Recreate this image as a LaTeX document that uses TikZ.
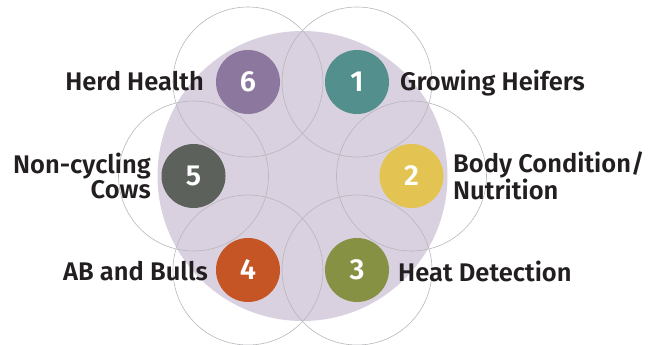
\documentclass[tikz,border=0pt]{standalone}
\usepackage{fontspec}
\setmainfont{Fira Sans}[BoldFont={Fira Sans SemiBold}]
\definecolor{discfill}{HTML}{D9D1DF}
\definecolor{ringgray}{HTML}{B8B6BA}
\definecolor{ink}{HTML}{231F20}
\definecolor{cteal}{HTML}{528F8D}
\definecolor{cyellow}{HTML}{E3C453}
\definecolor{colive}{HTML}{869143}
\definecolor{corange}{HTML}{C55524}
\definecolor{cslate}{HTML}{5C615B}
\definecolor{cmauve}{HTML}{8C789F}
\begin{document}
\begin{tikzpicture}[x=1pt,y=-1pt,
  ring/.style={draw=ringgray, line width=0.6pt},
  badge/.style={circle, minimum size=64pt, inner sep=0pt, text=white,
    font=\fontsize{29}{29}\selectfont\bfseries},
  caption/.style={font=\fontsize{25.5}{22.5}\selectfont\bfseries, text=ink, inner sep=0pt}]
\useasboundingbox (0,0) rectangle (648,345);
% central disc
\fill[discfill] (302.5,176) circle (145);
% positions of the six topics around the hexagon
\coordinate (p1) at (357,82);
\coordinate (p2) at (411.5,176);
\coordinate (p3) at (357,270);
\coordinate (p4) at (248,270);
\coordinate (p5) at (193.5,176);
\coordinate (p6) at (248,82);
% thin overlapping rings
\foreach \i in {1,...,6} \draw[ring] (p\i) circle (75);
% numbered badges
\node[badge, fill=cteal]   (b1) at (p1) {1};
\node[badge, fill=cyellow] (b2) at (p2) {2};
\node[badge, fill=colive]  (b3) at (p3) {3};
\node[badge, fill=corange] (b4) at (p4) {4};
\node[badge, fill=cslate]  (b5) at (p5) {5};
\node[badge, fill=cmauve]  (b6) at (p6) {6};
% captions (multi-line ones are anchored on their last baseline)
\node[caption, anchor=base west] (t1) at (400,91) {Growing Heifers};
\node[caption, anchor=base west, align=left] (t2) at (453,199.5) {Body Condition/\\Nutrition};
\node[caption, anchor=base west] (t3) at (398,281) {Heat Detection};
\node[caption, anchor=base east] (t4) at (208,280) {AB and Bulls};
\node[caption, anchor=base east, align=right] (t5) at (151,198) {Non-cycling\\Cows};
\node[caption, anchor=base east] (t6) at (204,91) {Herd Health};
\end{tikzpicture}
\end{document}
